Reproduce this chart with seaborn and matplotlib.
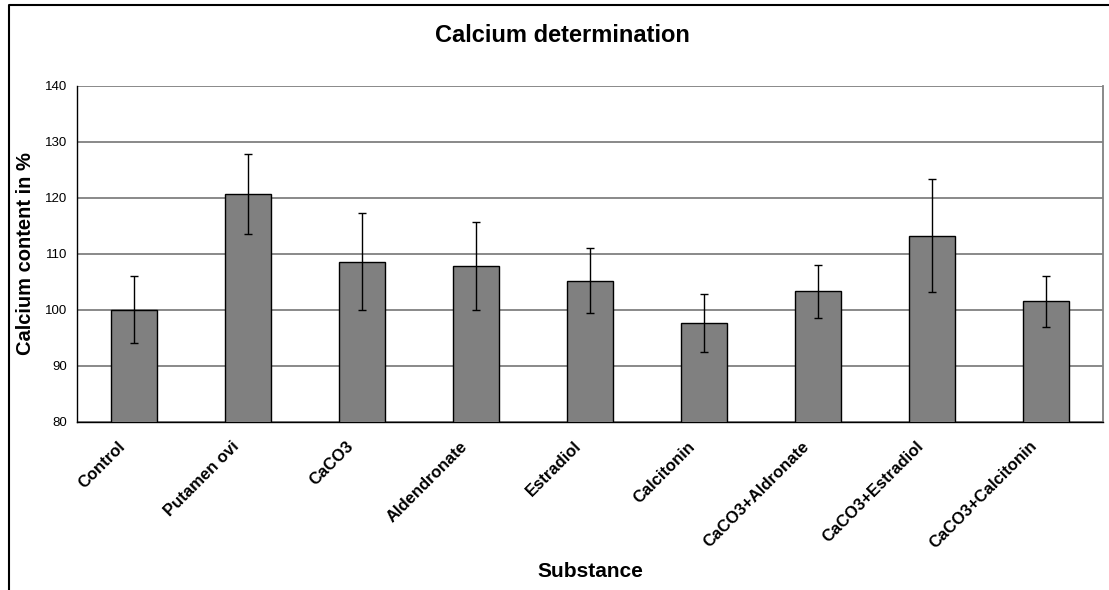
import matplotlib
matplotlib.use("Agg")
import matplotlib.pyplot as plt
import matplotlib.transforms as mtransforms
import seaborn as sns
import numpy as np
import pandas as pd
from matplotlib.lines import Line2D

categories = ["Control", "Putamen ovi", "CaCO3", "Aldendronate", "Estradiol",
              "Calcitonin", "CaCO3+Aldronate", "CaCO3+Estradiol", "CaCO3+Calcitonin"]
values = [100.0, 120.7, 108.6, 107.8, 105.2, 97.6, 103.3, 113.2, 101.5]
errors = [6.0, 7.1, 8.6, 7.9, 5.8, 5.2, 4.7, 10.1, 4.6]
yticks = [80, 90, 100, 110, 120, 130, 140]

sns.set_theme(style="white")
plt.rcParams['font.family'] = ['Liberation Sans', 'DejaVu Sans']
plt.rcParams.update({"text.color": "black", "axes.labelcolor": "black",
                     "xtick.color": "black", "ytick.color": "black"})

W, H = 1109, 590
fig = plt.figure(figsize=(W / 100, H / 100), dpi=100)
ax = fig.add_axes([77 / W, 1 - 421.7 / H, (1103 - 77) / W, (421.7 - 85.7) / H])

df = pd.DataFrame({"Substance": categories, "Value": values})
sns.barplot(data=df, x="Substance", y="Value", color="#808080", saturation=1,
            edgecolor="black", linewidth=1.0, width=0.4, errorbar=None, ax=ax, zorder=3)
ax.errorbar(np.arange(len(categories)), values, yerr=errors, fmt="none",
            ecolor="black", elinewidth=1.0, capsize=3, capthick=1.0, zorder=4)

ax.set_ylim(80, 140)
ax.set_xlim(-0.5, len(categories) - 0.5)
ax.set_yticks(yticks)
ax.set_yticklabels([str(t) for t in yticks], fontsize=9.5)
ax.yaxis.grid(True, color="#808080", linewidth=1.3, zorder=0)
ax.set_axisbelow(True)

ax.set_xticks(np.arange(len(categories)))
ax.set_xticklabels(categories, rotation=45, ha="right", va="center",
                   rotation_mode="anchor", fontsize=12, fontweight="bold")
ax.tick_params(axis="x", which="major", length=0, pad=16)
shift = mtransforms.ScaledTranslation(-11 / 100, 0, fig.dpi_scale_trans)
for lab in ax.get_xticklabels():
    lab.set_transform(lab.get_transform() + shift)
ax.set_xticks(np.arange(len(categories) + 1) - 0.5, minor=True)
ax.tick_params(axis="x", which="minor", length=5, width=1, color="black", direction="out")
ax.tick_params(axis="y", length=4, width=1, color="black", direction="out", pad=3)

for s in ["left", "bottom"]:
    ax.spines[s].set_color("black")
    ax.spines[s].set_linewidth(1.0)
ax.spines["right"].set_color("#808080")
ax.spines["right"].set_linewidth(1.3)
ax.spines["top"].set_visible(False)

ax.set_xlabel("Substance", fontsize=15, fontweight="bold")
ax.xaxis.set_label_coords(0.5, (421.7 - 562) / (421.7 - 85.7))
ax.set_ylabel("Calcium content in %", fontsize=14.5, fontweight="bold")
ax.yaxis.set_label_coords((35 - 77) / (1103 - 77), 0.5)

fig.text(562 / W, 1 - 36 / H, "Calcium determination", ha="center", va="center",
         fontsize=17, fontweight="bold")

x0 = 8.5 / W
yt = 1 - 4.5 / H
fig.add_artist(Line2D([x0, x0, 1.01], [-0.01, yt, yt], transform=fig.transFigure,
                      color="black", linewidth=1.5))

fig.savefig("out.png", dpi=100)
